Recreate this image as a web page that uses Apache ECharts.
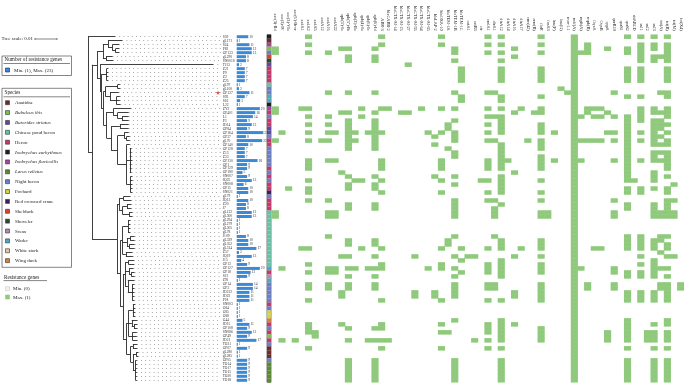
<!DOCTYPE html>
<html>
<head>
<meta charset="utf-8">
<script src="https://cdn.jsdelivr.net/npm/echarts@6/dist/echarts.min.js"></script>
<style>
  html, body { margin: 0; padding: 0; background: #fff; }
  #chart { width: 684px; height: 384px; }
</style>
</head>
<body>
<div id="chart"></div>
<script>
// isolates, top to bottom in tree order
const isolates = ['S59','gL171','S24','P82','GP133','gL290','SN001S','TJ13','Z21','P9','Z2','Z25','gL97','gL100',
  'GP137','S93','S16','L22','ZY2','GP401','L1','P3','JD14','GP84','GP164','GP37','gL70','GP140','GP128','Z13',
  'Z23','GP130','GP1','GP129','GP180','SN007','JQ25','SN008','GP15','SN021','gL79','JQ13','Z20','J7','gL132',
  'gL300','gL294','gL279','gL305','gL78','J109','gL329','gL352','gL314','Z57','JQ19','J15','GP13','GP127','GP18',
  'S12','Z91','GP14','GP3','JD212','JD22','P18','SN003','G84','G85','G88','G44','JD15','GP108','SN086','GP49',
  'JD21','TO31','GP07','gL280','gL285','GP05','TO14','TO17','TO15','TO20','TO18'];

// number of resistance genes per isolate
const geneCounts = [10,1,11,13,13,8,8,2,7,7,7,7,1,2,11,7,3,1,20,16,14,9,13,9,
  23,8,22,10,7,7,7,18,9,9,5,9,13,6,10,10,1,10,8,8,13,13,1,1,1,1,8,10,10,17,2,13,
  4,9,20,12,9,1,14,14,11,11,11,1,1,1,1,5,11,9,13,9,17,1,9,1,1,9,9,9,9,9,9];

const speciesNames = ['Anatidae','Bubulcus ibis','Butorides striatus','Chinese pond heron','Heron',
  'Ixobrychus eurhythmus','Ixobrychus flavicollis','Larus relictus','Night heron','Pochard',
  'Red crowned crane','Shelduck','Shoveler','Swan','Wader','White stork','Wing duck'];

// host species of each isolate (index into speciesNames)
const isolateSpecies = [5,0,6,1,8,11,12,2,4,4,4,4,3,8,8,14,14,5,6,4,8,4,4,2,
  2,8,4,4,8,8,8,8,8,4,8,4,8,4,4,10,8,4,4,4,3,3,3,3,3,3,3,3,3,3,3,3,
  3,3,14,4,13,14,8,8,8,8,8,4,8,9,9,16,4,8,4,1,4,8,0,0,0,8,7,7,7,7,7];

const geneNames = ['aac(3)-IId','aac(3)-IV','aac(3)-VIa',"aac(6')-Ib-cr",'aadA1','aadA2','aadA5','aadA12',
  'aadA16','aadA22',"aph(3')-Ia","aph(3'')-Ib","aph(3')-IIa",'aph(4)-Ia','aph(6)-Ic','aph(6)-Id','ARR-3',
  'blaCARB-2','blaCTX-M-14','blaCTX-M-15','blaCTX-M-27','blaCTX-M-55','blaCTX-M-64','blaCTX-M-65','blaLAP-2',
  'blaOXA-10','blaTEM-1A','blaTEM-1B','blaTEM-1C','catA1','catB3','cfr','cmlA1','dfrA1','dfrA12','dfrA14',
  'dfrA16','dfrA17','erm(42)','erm(B)','floR','fosA3','lnu(F)','lnu(G)','mcr-1.1','mdf(A)','mph(A)','mph(B)',
  'OqxA','OqxB','qepA','qnrB19','qnrS1','qnrS2','sitABCD','sul1','sul2','sul3','tet(A)','tet(B)','tet(M)','tet(X4)'];

// genes found in each isolate (index into geneNames)
const genesPresent = [
  [5,16,25,32,34,40,45,53,55,57,59],
  [45],
  [5,16,25,32,34,40,45,47,55,57,59],
  [0,10,11,15,27,36,45,47,50,53,55,57,59],
  [0,5,8,27,32,34,40,45,46,47,53,55,59],
  [11,15,36,45,55,57,58,59],
  [11,15,27,34,45,55,57,59],
  [20,45],
  [28,34,40,45,53,55,59],
  [28,34,40,45,53,55,59],
  [28,34,40,45,53,55,59],
  [28,34,40,45,53,55,59],
  [45],
  [43,45],
  [8,11,15,27,32,33,44,45,51,58,59],
  [28,34,40,45,53,55,59],
  [28,34,45],
  [45],
  [0,4,5,13,16,17,22,25,27,32,34,37,40,45,47,48,49,55,57,59],
  [0,10,11,15,19,20,36,39,40,45,47,50,55,57,58,59],
  [5,8,13,32,33,34,45,46,48,49,51,53,55,59],
  [11,15,27,34,45,53,55,57,58],
  [5,8,11,15,26,32,34,40,45,53,57,58,59],
  [11,15,26,34,40,45,53,57,58],
  [1,5,8,9,11,12,14,15,16,23,25,27,32,34,40,42,45,50,51,53,55,57,59],
  [11,15,24,27,45,53,57,58],
  [0,5,7,8,11,12,15,27,32,33,38,40,45,46,47,48,49,51,53,55,57,59],
  [11,15,24,34,40,45,53,57,58,59],
  [11,15,26,34,40,45,53],
  [27,34,45,53,57,58,59],
  [27,34,40,45,53,57,59],
  [5,8,9,16,25,32,34,35,40,42,45,46,51,53,55,57,58,59],
  [5,16,25,32,34,40,45,53,59],
  [5,16,25,32,34,40,45,53,59],
  [10,36,45,53,57],
  [11,15,24,27,34,45,53,57,59],
  [5,12,13,16,25,31,32,34,40,45,53,54,57],
  [11,15,27,34,45,60],
  [2,5,11,15,34,45,53,55,57,59],
  [5,16,25,32,34,40,45,53,55,59],
  [45],
  [5,8,27,32,33,40,45,51,59,60],
  [11,15,27,34,45,53,57,59],
  [11,15,27,33,45,53,57,59],
  [0,8,9,27,33,40,41,45,51,57,58,59,60],
  [0,8,9,27,33,40,41,45,51,57,58,59,60],
  [45],
  [45],
  [45],
  [45],
  [8,27,33,45,53,55,58,59],
  [11,15,26,34,40,45,53,55,57,58],
  [11,15,26,34,40,45,53,55,57,59],
  [4,5,13,16,25,28,32,34,37,40,45,48,49,53,55,57,59],
  [45,58],
  [10,11,15,21,27,29,30,36,40,45,55,59,60],
  [28,34,45,57],
  [5,16,25,32,34,40,45,55,57],
  [1,8,9,11,12,14,15,16,23,25,27,32,34,40,45,46,51,57,58,59],
  [5,8,9,28,32,34,40,45,51,53,55,57],
  [11,15,27,34,45,53,55,57,59],
  [45],
  [5,8,11,15,27,32,33,40,45,47,51,58,59,61],
  [5,8,11,15,27,32,33,40,45,47,51,58,59,61],
  [10,21,24,27,36,40,45,53,55,57,59],
  [10,21,24,27,36,40,45,53,55,57,59],
  [5,16,25,32,34,40,45,53,55,57,59],
  [45],
  [45],
  [45],
  [45],
  [27,34,45,53,59],
  [5,10,16,25,32,34,36,45,53,57,59],
  [5,11,15,16,32,34,40,45,53],
  [5,6,25,26,32,34,40,45,50,53,56,57,59],
  [6,34,40,45,50,53,56,57,59],
  [1,3,11,14,15,16,17,30,32,34,40,45,50,53,56,57,59],
  [45],
  [5,16,25,32,34,45,53,57,59],
  [45],
  [45],
  [11,15,27,34,45,53,57,59],
  [11,15,27,34,45,53,57,59],
  [11,15,27,34,45,53,57,59],
  [11,15,27,34,45,53,57,59],
  [11,15,27,34,45,53,57,59],
  [11,15,27,34,45,53,57,59]
];

// isolate marked with a red star
const markedIsolate = 14;

// tree in Newick form: leaf names are isolate indices, branch lengths in units of 0.001
const cladeTopA = '((1:6.5,(2:3,(3:1.5,4:1.5):1.5):2):2.3,(5:3,6:3.2):1.4)';
const cladeTopI = '(27:1.5,(28:0.8,29:0.8,30:0.8,31:1,32:0.8,33:0.8,34:0.8):1.5,(35:0.8,36:1,37:0.8,38:0.8,39:0.8):1.8)';
const cladeTopH = '((24:2,(25:1.5,26:1.5):1):3,' + cladeTopI + ':4)';
const cladeTopG = '((22:4,23:4):4,' + cladeTopH + ':3)';
const cladeTopF = '((18:8,(19:5,(20:3,21:3):2):2):3,' + cladeTopG + ':2)';
const cladeTopE = '((12:1,13:1.2):5.5,(14:4,(15:1.5,16:1.5,17:1.8):3):2)';
const cladeTopD = '(' + cladeTopE + ':1,' + cladeTopF + ':1.5)';
const cladeTopC = '((8:0.6,9:0.6,10:0.6,11:0.6):2.5,' + cladeTopD + ':1)';
const cladeTopB = '(7:51.4,' + cladeTopC + ':0.5)';
const cladeTop = '(' + cladeTopA + ':2.7,' + cladeTopB + ':1.4)';
const cladeBot8 = '((77:2,78:2):1,((79:1,80:1):1.5,(81:0.6,82:0.6,83:0.6,84:0.6,85:0.6,86:0.6):1.2):1)';
const cladeBot7 = '((67:1,68:1,69:1,70:1):2,(71:2.5,(72:1.5,73:1.5):1):1.5,(74:2,75:2,76:2.2):1.8)';
const cladeBot6 = '(' + cladeBot7 + ':1,' + cladeBot8 + ':2)';
const cladeBot5 = '((56:2.5,57:2.5):1.5,(58:2,(59:1.5,60:1.5):1):1.8,(61:3,(62:1,63:1,64:1,65:1,66:1):2):1.2)';
const cladeBot4 = '(' + cladeBot5 + ':1,' + cladeBot6 + ':1.5)';
const cladeBot3 = '((46:1,47:1,48:1,49:1):2.5,((50:2,51:2):1.5,(52:2.5,53:2.5):1):2,(54:3,55:3.2):1.5)';
const cladeBot2 = '(' + cladeBot3 + ':1,' + cladeBot4 + ':1.2)';
const cladeBot1 = '((40:3,41:3.5):2,((42:2,43:2):2,(44:1.5,45:1.5):3):1.5)';
const cladeBot = '(' + cladeBot1 + ':1,' + cladeBot2 + ':1.5)';
const treeNewick = '(0:12.3,(' + cladeTop + ':2.3,' + cladeBot + ':11.4):1.8);';

// styles
const serif = '"Liberation Serif", "DejaVu Serif", serif';
const barBlue = '#3b8ad8';
const geneOn = '#8fc97c';
const geneOff = '#f1f1f1';
const speciesColors = ['#6e2c2c','#7dc24f','#5a4c9e','#66c2a5','#c8376c','#1e1e1e','#a4479c','#5a8a33',
  '#6a7fc6','#d4cf4a','#3a2256','#d9432b','#2d4a30','#b58aae','#4fa8bd','#dccba0','#d3862f'];
const speciesItalic = [false,true,true,false,false,true,true,true,false,false,false,false,false,false,false,false,false];

function parseNewick(s) {
  s = s.replace(/;$/, '');
  let i = 0;
  function node() {
    const n = { children: [], name: '', len: 0 };
    if (s[i] === '(') {
      i++;
      n.children.push(node());
      while (s[i] === ',') { i++; n.children.push(node()); }
      i++;
    }
    while (i < s.length && !':,()'.includes(s[i])) n.name += s[i++];
    if (s[i] === ':') {
      i++;
      let num = '';
      while (i < s.length && !',()'.includes(s[i])) num += s[i++];
      n.len = parseFloat(num);
    }
    return n;
  }
  return node();
}

const treeMax = 60.9;     // tree axis extent, same units as branch lengths
const leaderEnd = 60.4;
const branches = [];
const leaders = [];
function place(n, x0) {
  n.x = x0 + n.len;
  if (!n.children.length) {
    n.y = +n.name;
    leaders.push({ coords: [[n.x, n.y], [leaderEnd, n.y]] });
    return;
  }
  n.children.forEach(c => place(c, n.x));
  const first = n.children[0].y, last = n.children[n.children.length - 1].y;
  n.y = (first + last) / 2;
  branches.push({ coords: [[n.x, first], [n.x, last]] });
  n.children.forEach(c => branches.push({ coords: [[n.x, c.y], [c.x, c.y]] }));
}
place(parseNewick(treeNewick), 0);

const heatData = [];
genesPresent.forEach((row, r) => row.forEach(g => heatData.push([g, r, 1])));

const gridTop = 34.7, gridHeight = 347.6, rowCount = isolates.length;
const chart = echarts.init(document.getElementById('chart'), null, { renderer: 'canvas' });

chart.setOption({
  animation: false,
  backgroundColor: '#fff',
  grid: [
    { left: 88, top: gridTop, width: 134, height: gridHeight, outerBoundsMode: 'none' },
    { left: 236.7, top: gridTop, width: 27.8, height: gridHeight, outerBoundsMode: 'none' },
    { left: 267, top: gridTop, width: 4, height: gridHeight, outerBoundsMode: 'none', show: true, borderColor: '#222', borderWidth: 0.6 },
    { left: 272, top: gridTop, width: 412, height: gridHeight, outerBoundsMode: 'none' }
  ],
  xAxis: [
    { type: 'value', gridIndex: 0, min: 0, max: treeMax, show: false },
    { type: 'value', gridIndex: 1, min: 0, max: 24, show: false },
    { type: 'value', gridIndex: 2, min: 0, max: 1, show: false },
    {
      type: 'category', gridIndex: 3, data: geneNames, position: 'top',
      axisLine: { show: false }, axisTick: { show: false }, splitLine: { show: false },
      axisLabel: { rotate: 90, interval: 0, fontSize: 4.3, margin: 4, fontFamily: serif, color: '#222' }
    }
  ],
  yAxis: [
    { type: 'value', gridIndex: 0, min: -0.5, max: rowCount - 0.5, inverse: true, show: false },
    {
      type: 'category', gridIndex: 1, data: isolates, inverse: true,
      axisLine: { show: false }, axisTick: { show: false },
      axisLabel: { interval: 0, align: 'left', margin: 14, fontSize: 3.6, fontFamily: serif, color: '#333' }
    },
    { type: 'category', gridIndex: 2, data: isolates, inverse: true, show: false },
    { type: 'category', gridIndex: 3, data: isolates, inverse: true, show: false }
  ],
  visualMap: {
    show: false, type: 'piecewise', seriesIndex: 5, dimension: 2,
    pieces: [{ min: 0.5, max: 1.5, color: geneOn }]
  },
  series: [
    {
      type: 'lines', coordinateSystem: 'cartesian2d', xAxisIndex: 0, yAxisIndex: 0,
      data: branches, silent: true,
      lineStyle: { color: '#2a2a2a', width: 0.9, opacity: 1 }
    },
    {
      type: 'lines', coordinateSystem: 'cartesian2d', xAxisIndex: 0, yAxisIndex: 0,
      data: leaders, silent: true,
      lineStyle: { color: '#7a7a7a', width: 0.8, type: [0.8, 3.4], opacity: 1 }
    },
    {
      type: 'scatter', xAxisIndex: 0, yAxisIndex: 0, silent: true,
      data: [[59.1, markedIsolate]],
      symbol: 'path://M50,0 L61,35 L98,35 L68,57 L79,91 L50,70 L21,91 L32,57 L2,35 L39,35 Z',
      symbolSize: 4.5, itemStyle: { color: '#e02020' }
    },
    {
      type: 'bar', xAxisIndex: 1, yAxisIndex: 1, data: geneCounts, barWidth: 3, silent: true,
      itemStyle: { color: barBlue },
      label: { show: true, position: 'right', distance: 1, fontSize: 3.6, fontFamily: serif, color: '#333' }
    },
    {
      type: 'bar', xAxisIndex: 2, yAxisIndex: 2, silent: true, barCategoryGap: '0%',
      data: isolateSpecies.map(s => ({ value: 1, itemStyle: { color: speciesColors[s] } }))
    },
    {
      type: 'heatmap', xAxisIndex: 3, yAxisIndex: 3, data: heatData, silent: true
    }
  ]
});

// legends drawn beside the tree
function txt(x, y, text, size, italic) {
  return {
    type: 'text', x, y, silent: true,
    style: { text, font: (italic ? 'italic ' : '') + size + 'px ' + serif, fill: '#222', verticalAlign: 'middle', align: 'left' }
  };
}
function box(x, y, w, h, fill, stroke) {
  return { type: 'rect', silent: true, shape: { x, y, width: w, height: h }, style: { fill, stroke, lineWidth: 0.6 } };
}
function rule(x1, y1, x2, y2) {
  return { type: 'line', silent: true, shape: { x1, y1, x2, y2 }, style: { stroke: '#333', lineWidth: 0.6 } };
}

const scale0 = chart.convertToPixel({ xAxisIndex: 0 }, 0);
const scale1 = chart.convertToPixel({ xAxisIndex: 0 }, 10);
const barStart = 35;
const els = [
  txt(1.5, 39, 'Tree scale: 0.01', 5),
  rule(barStart, 39, barStart + (scale1 - scale0), 39),
  rule(barStart, 38, barStart, 40),
  rule(barStart + (scale1 - scale0), 38, barStart + (scale1 - scale0), 40),

  box(2, 56, 69.5, 19.5, 'none', '#333'),
  txt(4.5, 60, 'Number of resistance genes', 5.2),
  rule(3.5, 63.5, 70, 63.5),
  box(5.5, 68, 4, 4, barBlue, '#223'),
  txt(14, 70.2, 'Min. (' + Math.min(...geneCounts) + '), Max. (' + Math.max(...geneCounts) + ')', 5),

  box(2, 88.3, 69.5, 179, 'none', '#333'),
  txt(4.5, 92.7, 'Species', 5.2),
  rule(3.5, 96.8, 70, 96.8)
];
speciesNames.forEach((name, i) => {
  const y = 102.7 + i * 9.87;
  els.push(box(5.5, y - 2, 4, 4, speciesColors[i], '#333'));
  els.push(txt(15, y + 0.2, name, 5, speciesItalic[i]));
});
els.push(
  txt(4, 277.3, 'Resistance genes', 5.2),
  rule(3.5, 280.6, 47, 280.6),
  box(5.5, 286.7, 4, 4, geneOff, '#ccc'),
  txt(13, 288.9, 'Min. (0)', 5),
  box(5.5, 295, 4, 4, geneOn, geneOn),
  txt(13, 297.2, 'Max. (1)', 5)
);
chart.setOption({ graphic: { elements: els } });
</script>
</body>
</html>
